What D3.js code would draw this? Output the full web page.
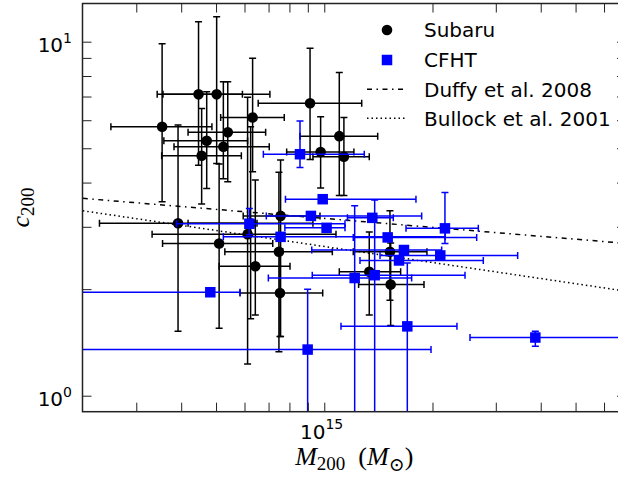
<!DOCTYPE html>
<html>
<head>
<meta charset="utf-8">
<script src="https://cdn.jsdelivr.net/npm/d3@7"></script>
<style>
body { margin: 0; background: #fff; }
svg { display: block; }
</style>
</head>
<body>
<svg id="chart" width="618" height="478"></svg>
<script>
// masses are in units of 1e14 Msun, lo/hi are the ends of the error bars
var subaruM   = [3.54, 4.47, 5.02, 6.32, 5.39, 4.71, 5.24, 4.56, 9.13, 11.01, 9.77, 11.34, 3.92, 7.56, 6.12, 5.10, 6.24, 7.48, 6.43, 7.53, 15.23, 13.34, 15.30];
var subaruMLo = [2.55, 3.43, 3.56, 5.15, 4.18, 3.58, 3.82, 3.53, 6.55, 8.56, 7.86, 9.30, 2.37, 5.95, 3.32, 3.55, 4.18, 5.29, 5.10, 5.83, 12.04, 11.01, 12.46];
var subaruMHi = [4.87, 5.92, 7.06, 7.74, 6.87, 6.12, 7.03, 5.88, 12.71, 14.08, 12.09, 13.34, 6.50, 9.73, 10.78, 7.19, 9.30, 10.53, 8.03, 9.90, 19.30, 16.31, 18.94];
var subaruC   = [5.75, 7.10, 7.10, 6.11, 5.55, 5.25, 5.05, 4.76, 6.70, 5.41, 4.88, 4.73, 3.07, 3.22, 2.86, 2.69, 3.07, 2.55, 2.32, 1.95, 2.55, 2.24, 2.06];
var subaruCLo = [3.53, 4.48, 4.53, 4.29, 4.02, 3.85, 4.10, 3.48, 4.65, 3.68, 3.86, 3.68, 1.52, 1.47, 1.23, 1.55, 1.65, 1.33, 1.69, 1.47, 1.86, 1.69, 1.58];
var subaruCHi = [9.87, 11.39, 11.77, 8.98, 7.71, 7.22, 7.71, 6.48, 9.58, 8.18, 6.14, 6.11, 5.82, 4.63, 6.97, 4.51, 5.75, 4.28, 4.07, 2.60, 3.33, 2.90, 2.70];

var cfhtM   = [8.56, 9.90, 9.18, 13.60, 21.66, 6.19, 7.56, 10.15, 15.01, 16.66, 21.02, 16.14, 12.15, 13.81, 4.82, 8.99, 17.02, 38.64];
var cfhtMLo = [6.77, 7.80, 6.90, 11.60, 16.88, 3.88, 5.24, 7.77, 12.04, 9.23, 14.29, 12.57, 6.99, 9.26, 1.50, 1.50, 11.13, 25.43];
var cfhtMHi = [12.92, 17.99, 18.66, 15.56, 26.82, 11.42, 21.70, 11.42, 26.54, 21.21, 34.51, 27.69, 17.50, 24.63, 5.83, 19.81, 23.39, 80.0];
var cfhtC   = [4.81, 3.59, 3.22, 3.18, 2.97, 3.06, 2.81, 2.98, 2.80, 2.58, 2.49, 2.41, 2.15, 2.19, 1.96, 1.35, 1.57, 1.46];
var cfhtCLo = [4.41, 3.59, 3.22, 3.18, 2.69, 2.85, 2.81, 2.98, 2.80, 2.58, 2.49, 2.41, 0.80, 0.80, 1.96, 0.70, 0.77, 1.38];
var cfhtCHi = [5.97, 3.59, 3.22, 3.18, 3.75, 3.38, 2.81, 2.98, 2.80, 2.58, 2.49, 2.41, 3.44, 3.57, 1.96, 2.00, 2.37, 1.52];

// model relations, end points across the plotted mass range
var duffyM = [2.13, 70];
var duffyC = [3.61, 2.69];
var bullockM = [2.13, 70];
var bullockC = [3.33, 1.97];

var xTicks = [3, 4, 5, 6, 7, 8, 9, 10, 20, 30, 40, 50, 60];
var yTicks = [1, 2, 3, 4, 5, 6, 7, 8, 9, 10];
var xMajor = [10];
var xMajorLabel = ["15"];
var yMajor = [1, 10];
var yMajorLabel = ["0", "1"];

var legendNames = ["Subaru", "CFHT", "Duffy et al. 2008", "Bullock et al. 2001"];

var pLeft = 82.5, pRight = 626, pTop = 3.5, pBottom = 411.7;
var svg = d3.select('#chart');

var x = d3.scaleLog().domain([2.126, 69.06]).range([pLeft, pRight]);
var y = d3.scaleLog().domain([0.9012, 12.82]).range([pBottom, pTop]);

svg.append('defs').append('clipPath').attr('id', 'plotclip')
	.append('rect')
	.attr('x', pLeft).attr('y', pTop)
	.attr('width', pRight - pLeft).attr('height', pBottom - pTop);

var plot = svg.append('g').attr('clip-path', 'url(#plotclip)');

function zipSeries(m, mLo, mHi, c, cLo, cHi) {
	return m.map(function(d, i) {
		return {m: d, mLo: mLo[i], mHi: mHi[i], c: c[i], cLo: cLo[i], cHi: cHi[i]};
	});
}

var subaru = zipSeries(subaruM, subaruMLo, subaruMHi, subaruC, subaruCLo, subaruCHi);
var cfht = zipSeries(cfhtM, cfhtMLo, cfhtMHi, cfhtC, cfhtCLo, cfhtCHi);

var line = d3.line()
	.x(function(d) { return x(d[0]); })
	.y(function(d) { return y(d[1]); });

plot.append('path')
	.attr('d', line(d3.zip(duffyM, duffyC)))
	.style('fill', 'none')
	.style('stroke', 'black')
	.style('stroke-width', '1.5px')
	.style('stroke-dasharray', '5,4.5,1.5,4.5');

plot.append('path')
	.attr('d', line(d3.zip(bullockM, bullockC)))
	.style('fill', 'none')
	.style('stroke', 'black')
	.style('stroke-width', '1.5px')
	.style('stroke-dasharray', '1.5,3');

var cap = 3.5;

function drawErrorbars(data, color) {
	var g = plot.append('g')
		.style('stroke', color)
		.style('stroke-width', '1.5px')
		.style('fill', 'none');
	data.forEach(function(d) {
		var px = x(d.m), py = y(d.c);
		var x0 = x(d.mLo), x1 = x(d.mHi);
		g.append('line').attr('x1', x0).attr('x2', x1).attr('y1', py).attr('y2', py);
		g.append('line').attr('x1', x0).attr('x2', x0).attr('y1', py - cap).attr('y2', py + cap);
		g.append('line').attr('x1', x1).attr('x2', x1).attr('y1', py - cap).attr('y2', py + cap);
		if (d.cLo != d.c || d.cHi != d.c) {
			var y0 = y(d.cLo), y1 = y(d.cHi);
			g.append('line').attr('x1', px).attr('x2', px).attr('y1', y0).attr('y2', y1);
			g.append('line').attr('x1', px - cap).attr('x2', px + cap).attr('y1', y0).attr('y2', y0);
			g.append('line').attr('x1', px - cap).attr('x2', px + cap).attr('y1', y1).attr('y2', y1);
		}
	});
}

drawErrorbars(subaru, 'black');
plot.append('g').selectAll('circle')
	.data(subaru).enter().append('circle')
	.attr('cx', function(d) { return x(d.m); })
	.attr('cy', function(d) { return y(d.c); })
	.attr('r', 5.3)
	.style('fill', 'black');

drawErrorbars(cfht, '#0000ff');
var sq = 10.5;
plot.append('g').selectAll('rect')
	.data(cfht).enter().append('rect')
	.attr('x', function(d) { return x(d.m) - sq/2; })
	.attr('y', function(d) { return y(d.c) - sq/2; })
	.attr('width', sq).attr('height', sq)
	.style('fill', '#0000ff');

// axes: ticks point inwards on all four sides
var tickLen = 9;
function styleAxis(g) {
	g.select('.domain').remove();
	g.selectAll('.tick line').style('stroke', '#222').style('stroke-width', '1px');
}
svg.append('g').attr('transform', 'translate(0,' + pBottom + ')')
	.call(d3.axisBottom(x).tickValues(xTicks).tickSize(-tickLen).tickSizeOuter(0).tickFormat(''))
	.call(styleAxis);
svg.append('g').attr('transform', 'translate(0,' + pTop + ')')
	.call(d3.axisTop(x).tickValues(xTicks).tickSize(-tickLen).tickSizeOuter(0).tickFormat(''))
	.call(styleAxis);
svg.append('g').attr('transform', 'translate(' + pLeft + ',0)')
	.call(d3.axisLeft(y).tickValues(yTicks).tickSize(-tickLen).tickSizeOuter(0).tickFormat(''))
	.call(styleAxis);
svg.append('g').attr('transform', 'translate(' + pRight + ',0)')
	.call(d3.axisRight(y).tickValues(yTicks).tickSize(-tickLen).tickSizeOuter(0).tickFormat(''))
	.call(styleAxis);

svg.append('rect')
	.attr('x', pLeft).attr('y', pTop)
	.attr('width', pRight - pLeft).attr('height', pBottom - pTop)
	.style('fill', 'none')
	.style('stroke', '#222')
	.style('stroke-width', '1.5px');

// tick labels as 10^n
var font = "'DejaVu Sans', sans-serif";
xMajor.forEach(function(v, i) {
	var t = svg.append('text')
		.attr('x', x(v) - 24.3).attr('y', 439.3)
		.style('font-family', font).style('font-size', '20px').style('fill', 'black');
	t.append('tspan').text('10');
	t.append('tspan').attr('dy', -10.5).style('font-size', '14px').text(xMajorLabel[i]);
});
yMajor.forEach(function(v, i) {
	var t = svg.append('text')
		.attr('x', 72).attr('y', y(v) + 10.7)
		.attr('text-anchor', 'end')
		.style('font-family', font).style('font-size', '20px').style('fill', 'black');
	t.append('tspan').text('10');
	t.append('tspan').attr('dy', -9.5).style('font-size', '14px').text(yMajorLabel[i]);
});

// axis titles
var serif = "'Liberation Serif', 'DejaVu Serif', serif";
var xl = svg.append('text')
	.attr('x', (pLeft + pRight) / 2).attr('y', 465)
	.attr('text-anchor', 'middle')
	.style('font-family', serif).style('font-size', '26px').style('fill', 'black');
xl.append('tspan').style('font-style', 'italic').text('M');
xl.append('tspan').attr('dy', 5).style('font-size', '19px').text('200');
xl.append('tspan').attr('dy', -5).text('\u2002(');
xl.append('tspan').style('font-style', 'italic').text('M');
xl.append('tspan').attr('dy', 6).style('font-size', '19px').text('\u2299');
xl.append('tspan').attr('dy', -6).text(')');

var yl = svg.append('text')
	.attr('transform', 'translate(29,' + (pTop + pBottom) / 2 + ') rotate(-90)')
	.attr('text-anchor', 'middle')
	.style('font-family', serif).style('font-size', '26px').style('fill', 'black');
yl.append('tspan').style('font-style', 'italic').text('c');
yl.append('tspan').attr('dy', 5).style('font-size', '19px').text('200');

// legend
var legX = 387, legTextX = 424;
var legY = [30, 60, 89.3, 118.3];
var leg = svg.append('g');
leg.append('circle').attr('cx', legX).attr('cy', legY[0]).attr('r', 5.3).style('fill', 'black');
leg.append('rect').attr('x', legX - sq/2).attr('y', legY[1] - sq/2).attr('width', sq).attr('height', sq).style('fill', '#0000ff');
leg.append('line').attr('x1', 367).attr('x2', 407).attr('y1', legY[2]).attr('y2', legY[2])
	.style('stroke', 'black').style('stroke-width', '1.5px').style('stroke-dasharray', '5,4.5,1.5,4.5');
leg.append('line').attr('x1', 367).attr('x2', 407).attr('y1', legY[3]).attr('y2', legY[3])
	.style('stroke', 'black').style('stroke-width', '1.5px').style('stroke-dasharray', '1.5,3');
leg.selectAll('text')
	.data(legendNames).enter().append('text')
	.attr('x', legTextX)
	.attr('y', function(d, i) { return legY[i] + 7.3; })
	.style('font-family', font).style('font-size', '20px').style('fill', 'black')
	.text(function(d) { return d; });
</script>
</body>
</html>
